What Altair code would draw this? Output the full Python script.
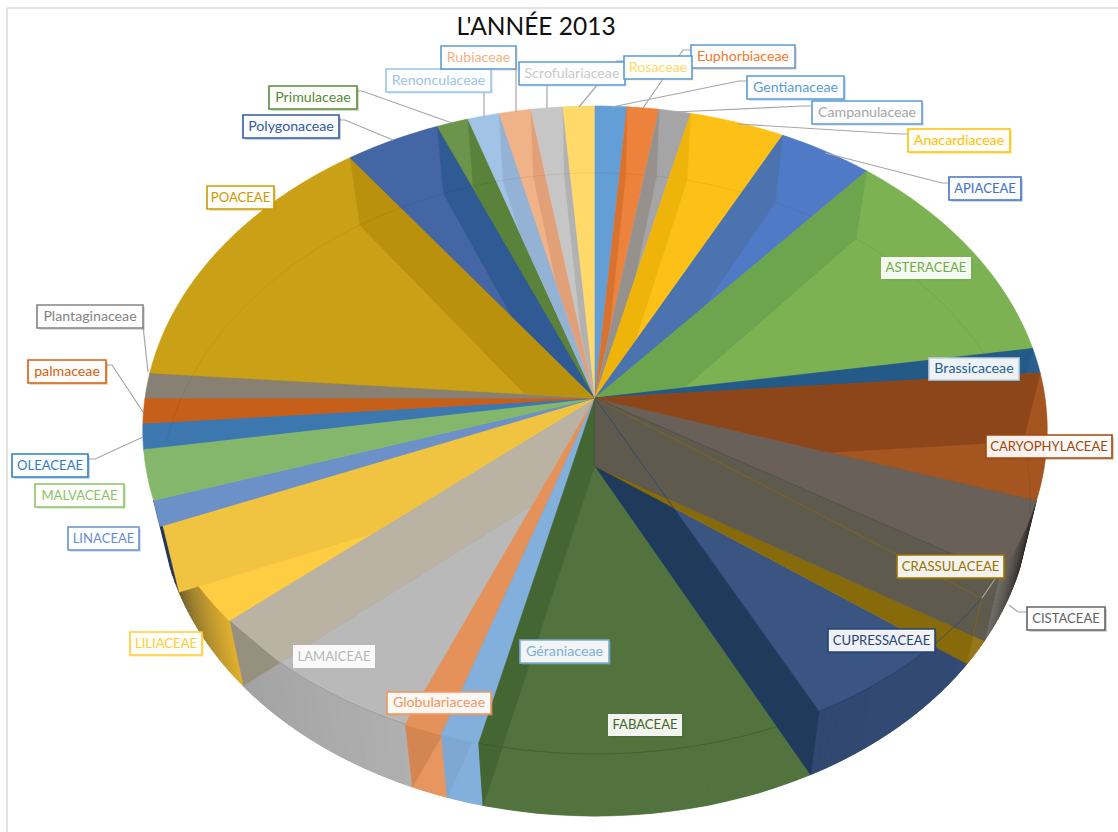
import math
import altair as alt

# Number of species per family, clockwise from twelve o'clock
families = ["Gentianaceae", "Euphorbiaceae", "Campanulaceae", "Anacardiaceae", "APIACEAE", "ASTERACEAE",
            "Brassicaceae", "CARYOPHYLACEAE", "CISTACEAE", "CRASSULACEAE", "CUPRESSACEAE", "FABACEAE",
            "Géraniaceae", "Globulariaceae", "LAMAICEAE", "LILIACEAE", "LINACEAE", "MALVACEAE",
            "OLEACEAE", "palmaceae", "Plantaginaceae", "POACEAE", "Polygonaceae", "Primulaceae",
            "Renonculaceae", "Rubiaceae", "Scrofulariaceae", "Rosaceae"]
counts = [1, 1, 1, 3, 3, 9, 1, 5, 3, 1, 6, 9, 1, 1, 6, 4, 1, 2, 1, 1, 1, 11, 3, 1, 1, 1, 1, 1]

face_colors = ["#649ED7", "#ED823C", "#A5A5A5", "#FDC016", "#507AC6", "#7CB252", "#285F8C", "#A5551F",
               "#69605A", "#876A0A", "#3A5582", "#52733E", "#82AFDC", "#E4915A", "#B9B9B9", "#FECD41",
               "#6C91C8", "#84B76C", "#3C78AF", "#C65F19", "#878073", "#CAA016", "#4466A5", "#6C944B",
               "#A0C3E6", "#F0B287", "#C6C6C6", "#FFD969"]
wall_colors = ["#649ED7", "#D8722E", "#96918C", "#EEB40A", "#4B73AF", "#6CA54E", "#235A87", "#8C4619",
               "#5E5A4E", "#876A0A", "#203A5C", "#446632", "#7DA5CD", "#C87D4B", "#BBAF91", "#F0C341",
               "#6C91C8", "#84B76C", "#3C78AF", "#C65F19", "#878073", "#B9910C", "#305A94", "#5A823A",
               "#94B2D4", "#E1A078", "#B2B2B2", "#FFD969"]
label_text = ["#5B9BD5", "#ED7D31", "#A5A5A5", "#FFC000", "#4472C4", "#70AD47", "#255E91", "#9E480E",
              "#636363", "#997300", "#264478", "#43682B", "#7CAFDD", "#F1975A", "#B7B7B7", "#FFCD33",
              "#698ED0", "#8CC168", "#327DC2", "#D26012", "#848484", "#CA9A00", "#335AA1", "#5A8A39",
              "#9DC3E6", "#F4B183", "#C9C9C9", "#FFD966"]

# Callout boxes: left, top, right, bottom, border colour ("" means no border)
callouts = {
    "Gentianaceae": (747, 76, 844, 99, "#5B9BD5"), "Euphorbiaceae": (691, 45, 795, 68, "#5B9BD5"),
    "Campanulaceae": (812, 101, 922, 124, "#5B9BD5"), "Anacardiaceae": (908, 129, 1010, 152, "#FFC000"),
    "APIACEAE": (949, 177, 1021, 200, "#4472C4"), "ASTERACEAE": (881, 257, 971, 279, ""),
    "Brassicaceae": (929, 358, 1019, 380, "#BFCFDD"), "CARYOPHYLACEAE": (986, 435, 1112, 458, "#9E480E"),
    "CISTACEAE": (1027, 607, 1105, 630, "#636363"), "CRASSULACEAE": (897, 555, 1004, 578, "#997300"),
    "CUPRESSACEAE": (828, 629, 935, 652, "#264478"), "FABACEAE": (608, 714, 682, 736, ""),
    "Géraniaceae": (520, 640, 609, 663, "#7CAFDD"), "Globulariaceae": (387, 692, 491, 714, "#F1975A"),
    "LAMAICEAE": (293, 645, 375, 668, ""), "LILIACEAE": (130, 632, 202, 655, "#FFCD33"),
    "LINACEAE": (68, 527, 139, 550, "#698ED0"), "MALVACEAE": (35, 484, 124, 507, "#8CC168"),
    "OLEACEAE": (12, 454, 88, 477, "#327DC2"), "palmaceae": (28, 360, 106, 383, "#D26012"),
    "Plantaginaceae": (37, 305, 143, 328, "#848484"), "POACEAE": (207, 186, 274, 209, "#CA9A00"),
    "Polygonaceae": (243, 115, 339, 138, "#335AA1"), "Primulaceae": (269, 86, 357, 109, "#5A8A39"),
    "Renonculaceae": (386, 69, 491, 92, "#9DC3E6"), "Rubiaceae": (441, 46, 516, 69, "#5B9BD5"),
    "Scrofulariaceae": (519, 62, 625, 85, "#5B9BD5"), "Rosaceae": (624, 56, 692, 79, "#5B9BD5"),
}

# Leader lines from callouts to their slices
leaders = {
    "Polygonaceae": [(339, 120), (345, 120), (393, 140)], "Primulaceae": [(357, 91), (362, 91), (452, 123)],
    "Renonculaceae": [(484, 92), (484, 117)], "Rubiaceae": [(516, 69), (516, 112)],
    "Scrofulariaceae": [(547, 85), (547, 108)], "Rosaceae": [(624, 61), (617, 61), (579, 107)],
    "Euphorbiaceae": [(691, 50), (683, 50), (643, 108)], "Gentianaceae": [(747, 81), (739, 81), (612, 107)],
    "Campanulaceae": [(812, 106), (804, 106), (675, 112)], "Anacardiaceae": [(908, 134), (900, 134), (738, 124)],
    "APIACEAE": [(949, 183), (942, 183), (825, 153)], "Plantaginaceae": [(143, 326), (148, 372)],
    "palmaceae": [(106, 365), (112, 365), (143, 412)], "OLEACEAE": [(88, 459), (95, 459), (143, 437)],
    "CISTACEAE": [(1027, 612), (1018, 612), (1009, 605)],
}

WIDTH, HEIGHT = 1118, 832
TOTAL = sum(counts)


def project(theta, plane):
    """Perspective position of a rim point, theta in degrees clockwise from the top."""
    s, c = math.sin(math.radians(theta)), math.cos(math.radians(theta))
    if plane == 1:
        cy, a, b, p = 398, 450, 320.8, 0.0988
    else:
        cy, a, b, p = 466, 433 - 5 * c, 319, 0.0886
    w = 1 + p * c
    return (595 + a * s / w, cy - b * c / w)


def hub(plane):
    return (595, 398) if plane == 1 else (595, 466)


def rim(t0, t1, plane, steps=None):
    n = steps or max(2, int(abs(t1 - t0)))
    return [project(t0 + (t1 - t0) * i / n, plane) for i in range(n + 1)]


def clip(poly, a, b, keep):
    """Keep the part of a polygon on the same side of line a-b as the point keep."""
    side = lambda q: (b[0] - a[0]) * (q[1] - a[1]) - (b[1] - a[1]) * (q[0] - a[0])
    sign = 1 if side(keep) >= 0 else -1
    out = []
    for i, cur in enumerate(poly):
        nxt = poly[(i + 1) % len(poly)]
        sc, sn = side(cur) * sign, side(nxt) * sign
        if sc >= 0:
            out.append(cur)
        if sc * sn < 0:
            f = sc / (sc - sn)
            out.append((cur[0] + (nxt[0] - cur[0]) * f, cur[1] + (nxt[1] - cur[1]) * f))
    return out


features = []


def add(points, fill, alpha=1.0, stroke=None, width=0.6, closed=True):
    pts = [list(map(float, q)) for q in points]
    if closed:
        geom = {"type": "Polygon", "coordinates": [pts + [pts[0]]]}
    else:
        geom = {"type": "LineString", "coordinates": pts}
    features.append({"type": "Feature", "geometry": geom,
                     "properties": {"fill": fill, "alpha": alpha, "stroke": stroke or fill, "sw": width}})


def wedge(t0, t1, plane):
    return [hub(plane)] + rim(t0, t1, plane)


def wall(t):
    return [hub(1), project(t, 1), project(t, 2), hub(2)]


def rgb(h):
    return [int(h[i:i + 2], 16) for i in (1, 3, 5)]


def hexa(v):
    return "#" + "".join(f"{int(round(x)):02X}" for x in v)


def strip(t0, t1, c0, c1, pieces=30):
    """Curved outer wall between both rims, shaded from c0 at t0 to c1 at t1."""
    for i in range(pieces):
        a = t0 + (t1 - t0) * i / pieces
        b = t0 + (t1 - t0) * (i + 1) / pieces
        u = (i + 0.5) / pieces
        col = hexa([x + (y - x) * u for x, y in zip(rgb(c0), rgb(c1))])
        add(rim(a, b, 1, 2) + rim(b, a, 2, 2), col, 1.0, col, 0.7)


# Slice boundaries from the counts
edges = {}
acc = 0
for name, n in zip(families, counts):
    edges[name] = (acc * 360 / TOTAL, (acc + n) * 360 / TOTAL)
    acc += n
idx = {n: i for i, n in enumerate(families)}
face = lambda n: face_colors[idx[n]]
side_wall = lambda n: wall_colors[idx[n]]

# Slices on the lower rim, far to near, with their curved walls and radial walls
strip(*edges["LINACEAE"], "#1E325A", "#1E325A", 3)
t0, t1 = edges["LAMAICEAE"]
add(wedge(t0, t1, 2), face("LAMAICEAE"))
strip(t0, t1, "#B0B0B0", "#A2A2A2")
add(wedge(t0, t1, 1), face("LAMAICEAE"))
add(wall(t1), side_wall("LAMAICEAE"), 0.5, "#A8A490", 0.7)
add(clip(wall(t1), project(t1, 1), project(t1 - 8, 1), project(t1, 2)), "#96917F", 1.0, "#96917F", 0.5)
add(rim(t0, t1, 1), "none", 0.8, "#8E8E8E", 0.8, closed=False)

t0, t1 = edges["LILIACEAE"]
strip(t0, t1, "#E1AF2D", "#6B5C28")

for fam, shade, wall_alpha in [("Globulariaceae", "#E8965F", 0.6), ("Géraniaceae", "#82AFDC", 0.6),
                               ("FABACEAE", "#52733E", 1.0)]:
    t0, t1 = edges[fam]
    add(wedge(t0, t1, 2), shade)
    strip(t0, t1, shade, shade, 3)
    add(wall(t1), side_wall(fam), wall_alpha)
    if fam != "FABACEAE":
        add(wedge(t0, t1, 1), face(fam), 1.0, label_text[idx[fam]], 0.7)
add(rim(*edges["FABACEAE"], 1), "none", 0.8, "#3A5A28", 0.8, closed=False)

t0, t1 = edges["CUPRESSACEAE"]
add(wedge(t0, t1, 2), face("CUPRESSACEAE"))
strip(t0, t1, "#324A74", "#324870")
add(wall(t1), side_wall("CUPRESSACEAE"))
add(rim(t0, t1, 1), "none", 0.9, "#264478", 0.8, closed=False)

t0, t1 = edges["CRASSULACEAE"]
add(wedge(t0, t1, 2), face("CRASSULACEAE"))
strip(t0, t1, "#96781A", "#96781A", 3)

t0, t1 = edges["CISTACEAE"]
strip(t0, t1, "#2C2622", "#6E6A64")
add(wedge(t0, t1, 1), face("CISTACEAE"), 1.0, "#5A5650", 0.6)
add(wall(t1), side_wall("CISTACEAE"), 1.0, "#5A5650", 0.6)

# Slices on the upper rim, each with the radial wall seen through it
upper_right = ["Gentianaceae", "Euphorbiaceae", "Campanulaceae", "Anacardiaceae", "APIACEAE", "ASTERACEAE",
               "Brassicaceae", "CARYOPHYLACEAE"]
upper_left = ["LILIACEAE", "LINACEAE", "MALVACEAE", "OLEACEAE", "palmaceae", "Plantaginaceae", "POACEAE",
              "Polygonaceae", "Primulaceae", "Renonculaceae", "Rubiaceae", "Scrofulariaceae", "Rosaceae"]
for fam in upper_left + upper_right:
    t0, t1 = edges[fam]
    add(wedge(t0, t1, 1), face(fam), 1.0, label_text[idx[fam]], 0.6)
    if fam not in ("Gentianaceae", "Rosaceae"):
        at, other = (t0, t1) if fam in upper_right else (t1, t0)
        keep = project((t0 + t1) / 2, 1)
        piece = clip(wall(at), hub(1), project(other, 1), keep)
        add(piece, side_wall(fam), 1.0, side_wall(fam), 0.3)
    if fam not in ("LILIACEAE", "LINACEAE", "MALVACEAE", "OLEACEAE", "palmaceae", "Plantaginaceae"):
        add(rim(t0, t1, 2), "none", 0.1, "#000000", 0.6, closed=False)

# Thin edges of the slices that run across the darker walls
add([hub(1), project(edges["CUPRESSACEAE"][1], 1)], "none", 0.9, "#264478", 0.8, closed=False)
add([hub(1), project(edges["CRASSULACEAE"][1], 1), project(edges["CRASSULACEAE"][1], 2)],
    "none", 0.9, "#8A6A08", 0.8, closed=False)
add([hub(1), project(edges["CISTACEAE"][1], 1)], "none", 0.6, "#45433E", 0.8, closed=False)
add(rim(*edges["CUPRESSACEAE"], 1), "none", 0.9, "#264478", 0.8, closed=False)

pie = alt.Chart(alt.InlineData(values={"type": "FeatureCollection", "features": features},
                               format=alt.DataFormat(property="features", type="json"))).mark_geoshape().encode(
    fill=alt.Fill("properties.fill:N", scale=None, legend=None),
    stroke=alt.Stroke("properties.stroke:N", scale=None, legend=None),
    opacity=alt.Opacity("properties.alpha:Q", scale=None, legend=None),
    strokeWidth=alt.StrokeWidth("properties.sw:Q", scale=None, legend=None),
).properties(projection=alt.Projection(type="identity", scale=1, translate=[0, 0]))

xs = alt.Scale(domain=[0, WIDTH], range=[0, WIDTH], nice=False, zero=False)
ys = alt.Scale(domain=[0, HEIGHT], range=[0, HEIGHT], nice=False, zero=False)

leader_rows = [{"name": k, "x": p[0], "y": p[1], "i": i} for k, v in leaders.items() for i, p in enumerate(v)]
leader_rows += [{"name": "CRASSULACEAE", "x": x, "y": y, "i": i}
                for i, (x, y) in enumerate([(1004, 566), (982, 598)])]
leader_lines = alt.Chart(alt.Data(values=leader_rows)).mark_line(color="#A6A6A6", strokeWidth=1.2).encode(
    x=alt.X("x:Q", scale=xs, axis=None), y=alt.Y("y:Q", scale=ys, axis=None),
    detail="name:N", order="i:Q")

box_rows = []
for fam, (l, t, r, b, edge) in callouts.items():
    box_rows.append({"name": fam, "l": l, "t": t, "r": r, "b": b, "edge": edge or "#FFFFFF",
                     "bw": 1.6 if edge else 0, "tone": label_text[idx[fam]], "cx": (l + r) / 2, "cy": (t + b) / 2,
                     "fs": 13.1 if fam.isupper() else 14.2})
shadow_rows = [dict(row, l=row["l"] + 2, t=row["t"] + 2, r=row["r"] + 2, b=row["b"] + 2) for row in box_rows]

shadows = alt.Chart(alt.Data(values=shadow_rows)).mark_rect(opacity=0.28).encode(
    x=alt.X("l:Q", scale=xs, axis=None), x2="r:Q", y=alt.Y("t:Q", scale=ys, axis=None), y2="b:Q",
    fill=alt.Fill("tone:N", scale=None, legend=None))
boxes = alt.Chart(alt.Data(values=box_rows)).mark_rect(fillOpacity=0.92).encode(
    x=alt.X("l:Q", scale=xs, axis=None), x2="r:Q", y=alt.Y("t:Q", scale=ys, axis=None), y2="b:Q",
    stroke=alt.Stroke("edge:N", scale=None, legend=None),
    strokeWidth=alt.StrokeWidth("bw:Q", scale=None, legend=None),
    fill=alt.value("#FFFFFF"))
captions = alt.Chart(alt.Data(values=box_rows)).mark_text(font="Lato", baseline="middle").encode(
    x=alt.X("cx:Q", scale=xs, axis=None), y=alt.Y("cy:Q", scale=ys, axis=None),
    text="name:N", color=alt.Color("tone:N", scale=None, legend=None),
    size=alt.Size("fs:Q", scale=None, legend=None))

title = alt.Chart(alt.Data(values=[{"x": 536, "y": 28, "t": "L'ANNÉE 2013"}])).mark_text(
    font="Lato", fontSize=24.5, color="#111111", baseline="middle").encode(
    x=alt.X("x:Q", scale=xs, axis=None), y=alt.Y("y:Q", scale=ys, axis=None), text="t:N")

frame = alt.Chart(alt.Data(values=[{"a": 7, "b": 8, "c": 1118, "d": 8}, {"a": 7, "b": 8, "c": 7, "d": 832}])).mark_rule(
    color="#D9D9D9", strokeWidth=1.5).encode(
    x=alt.X("a:Q", scale=xs, axis=None), x2="c:Q", y=alt.Y("b:Q", scale=ys, axis=None), y2="d:Q")

chart = alt.layer(frame, pie, leader_lines, shadows, boxes, captions, title).resolve_scale(
    x="shared", y="shared"
).properties(width=WIDTH, height=HEIGHT, padding=0, autosize=alt.AutoSizeParams(type="none")).configure_view(stroke=None)

chart.save("out.html", embed_options={"renderer": "svg", "actions": False})
